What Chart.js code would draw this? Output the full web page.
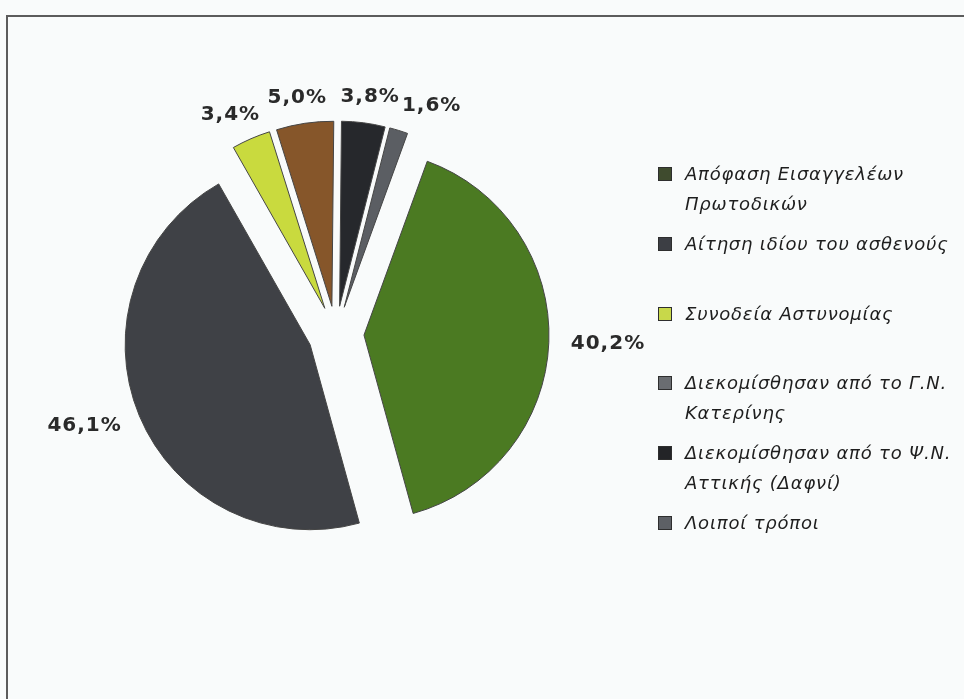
<!DOCTYPE html>
<html lang="el">
<head>
<meta charset="utf-8">
<script src="https://cdn.jsdelivr.net/npm/chart.js@4.4.1/dist/chart.umd.min.js"></script>
<style>
  body {
    margin: 0;
    width: 964px;
    height: 699px;
    background: #f9fbfb;
    position: relative;
    overflow: hidden;
    font-family: "DejaVu Sans", sans-serif;
  }
  .frame {
    position: absolute;
    left: 6px;
    top: 15px;
    right: -4px;
    bottom: -4px;
    border-top: 2px solid #5c5c5c;
    border-left: 2px solid #5c5c5c;
  }
  #pie { position: absolute; left: 0; top: 0; }
  .item {
    position: absolute;
    left: 658px;
    width: 306px;
    line-height: 30px;
    font-size: 18px;
    font-style: italic;
    letter-spacing: 0.8px;
    color: #1e1e1e;
  }
  .swatch {
    position: absolute;
    left: 0;
    top: 8px;
    width: 12px;
    height: 12px;
    border: 1px solid #2e2e2e;
  }
  .text { margin-left: 27px; white-space: nowrap; }
</style>
</head>
<body>
<div class="frame"></div>
<canvas id="pie" width="672" height="668"></canvas>
<div id="legend"></div>

<script>
// categories (multi-line labels as drawn in the legend)
const labels = [
    ['Απόφαση Εισαγγελέων', 'Πρωτοδικών'],
    ['Αίτηση ιδίου του ασθενούς'],
    ['Συνοδεία Αστυνομίας'],
    ['Διεκομίσθησαν από το Γ.Ν.', 'Κατερίνης'],
    ['Διεκομίσθησαν από το Ψ.Ν.', 'Αττικής (Δαφνί)'],
    ['Λοιποί τρόποι'],
];

// percentage of admissions per way of arrival
const shares = [40.2, 46.1, 3.4, 5.0, 3.8, 1.6];

const sliceColors = ['#4b7a22', '#3f4146', '#c9da3e', '#86562a', '#26282c', '#5b5e63'];
const swatchColors = ['#3f4b2e', '#3c3e44', '#c8d84a', '#6a6d71', '#232427', '#5d6065'];

const EXPLODE = 28; // every slice pulled out by the same distance

// Chart.js scales its own arc offset by the slice angle, so the
// exploded pie is drawn here with a plain translate per slice
const explodedPie = {
    id: 'explodedPie',
    beforeDatasetDraw(chart, args) {
        const ctx = chart.ctx;
        args.meta.data.forEach(arc => {
            const mid = (arc.startAngle + arc.endAngle) / 2;
            ctx.save();
            ctx.translate(Math.cos(mid) * EXPLODE, Math.sin(mid) * EXPLODE);
            arc.draw(ctx);
            ctx.restore();
        });
        return false;
    }
};

// percent labels outside each slice, nudged right when two collide
const percentLabels = {
    id: 'percentLabels',
    afterDatasetsDraw(chart) {
        const ctx = chart.ctx;
        const meta = chart.getDatasetMeta(0);
        ctx.save();
        ctx.font = 'bold 20px "DejaVu Sans"';
        ctx.letterSpacing = '1px';
        ctx.fillStyle = '#2a2a2a';
        ctx.textAlign = 'center';
        ctx.textBaseline = 'middle';

        const boxes = meta.data.map((arc, i) => {
            const mid = (arc.startAngle + arc.endAngle) / 2;
            const dx = Math.cos(mid);
            const dy = Math.sin(mid);
            const text = shares[i].toFixed(1).replace('.', ',') + '%';
            const w = ctx.measureText(text).width;
            const r = EXPLODE + arc.outerRadius + 22;
            return { text, w, dx, x: arc.x + dx * r + dx * w / 2, y: arc.y + dy * r + dy * 4 };
        });

        boxes.forEach((b, i) => {
            const prev = boxes[i - 1];
            if (prev && b.dx >= 0 && Math.abs(prev.y - b.y) < 20) {
                const minX = prev.x + prev.w / 2 + b.w / 2 + 2;
                if (b.x < minX) b.x = minX;
            }
            ctx.fillText(b.text, b.x, b.y);
        });
        ctx.restore();
    }
};

new Chart(document.getElementById('pie'), {
    type: 'pie',
    data: {
        labels: labels,
        datasets: [{
            data: shares,
            backgroundColor: sliceColors,
            borderColor: '#454545',
            borderWidth: 1,
        }]
    },
    options: {
        responsive: false,
        animation: false,
        rotation: 20,
        radius: 185,
        plugins: {
            legend: { display: false },
            tooltip: { enabled: false },
        },
    },
    plugins: [explodedPie, percentLabels],
});

// legend on the right
const legend = document.getElementById('legend');
labels.forEach((lines, i) => {
    const item = document.createElement('div');
    item.className = 'item';
    item.style.top = (159 + i * 69.8) + 'px';
    item.innerHTML = `<span class="swatch" style="background:${swatchColors[i]}"></span>` +
        `<div class="text">${lines.join('<br>')}</div>`;
    legend.appendChild(item);
});
</script>
</body>
</html>
